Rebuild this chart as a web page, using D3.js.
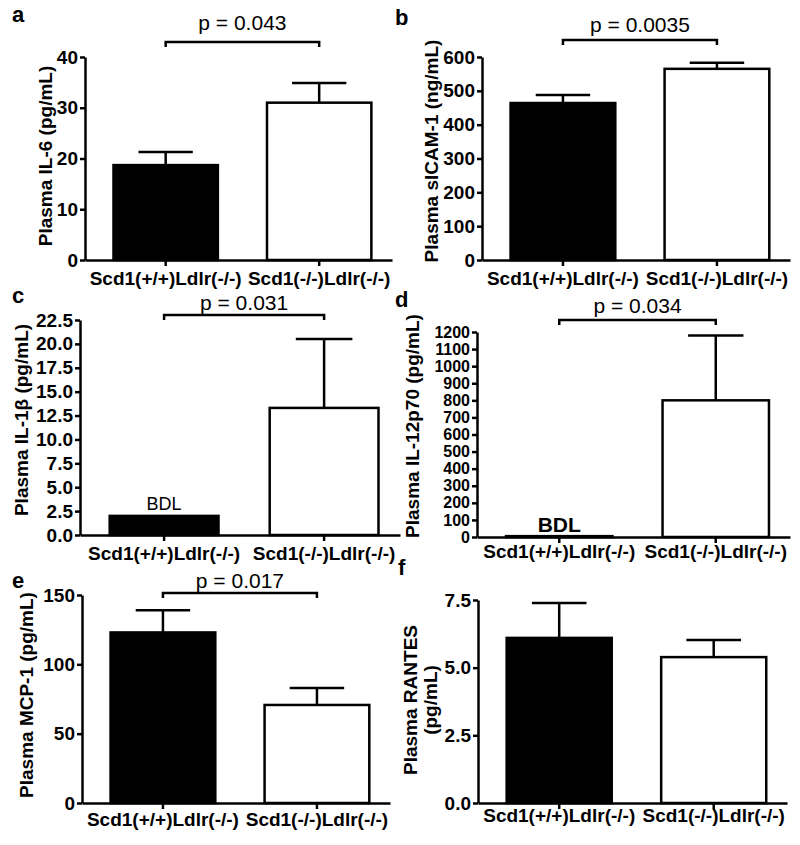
<!DOCTYPE html>
<html>
<head>
<meta charset="utf-8">
<script src="https://cdn.jsdelivr.net/npm/d3@7"></script>
<style>
  html, body { margin: 0; padding: 0; background: #fff; }
  svg { display: block; }
</style>
</head>
<body>
<script>
// ---------------- DATA ----------------
const categories = ["Scd1(+/+)Ldlr(-/-)", "Scd1(-/-)Ldlr(-/-)"];

const il6Mean = [18.7, 31.0];
const il6Sem = [2.6, 3.9];
const il6Ticks = [0, 10, 20, 30, 40];

const sicamMean = [464, 565];
const sicamSem = [24, 18];
const sicamTicks = [0, 100, 200, 300, 400, 500, 600];

const il1bMean = [2.0, 13.3];
const il1bSem = [0, 7.2];
const il1bTicks = [0, 2.5, 5, 7.5, 10, 12.5, 15, 17.5, 20, 22.5];

const il12Mean = [5, 800];
const il12Sem = [0, 380];
const il12Ticks = [0, 100, 200, 300, 400, 500, 600, 700, 800, 900, 1000, 1100, 1200];

const mcpMean = [123, 70.7];
const mcpSem = [16, 12.3];
const mcpTicks = [0, 50, 100, 150];

const rantesMean = [6.1, 5.39];
const rantesSem = [1.29, 0.63];
const rantesTicks = [0, 2.5, 5, 7.5];

const pLabels = ["p = 0.043", "p = 0.0035", "p = 0.031", "p = 0.034", "p = 0.017", null];
const panelLetters = ["a", "b", "c", "d", "e", "f"];
const yTitles = [
  ["Plasma IL-6 (pg/mL)"],
  ["Plasma sICAM-1 (ng/mL)"],
  ["Plasma IL-1\u03B2 (pg/mL)"],
  ["Plasma IL-12p70 (pg/mL)"],
  ["Plasma MCP-1 (pg/mL)"],
  ["Plasma RANTES", "(pg/mL)"]
];
const bdlLabels = [null, null, "BDL", "BDL", null, null];

// ---------------- LAYOUT ----------------
const FONT = "'Liberation Sans', Arial, Helvetica, sans-serif";
const fills = ["#000", "#fff"];
const LW = 2.5;

const svg = d3.select("body").append("svg")
  .attr("width", 800).attr("height", 845)
  .style("background", "#fff");

const panels = [
  { means: il6Mean, sems: il6Sem, ticks: il6Ticks, fmt: d3.format("d"), max: 40,
    ax: 85, axEnd: 392, y0: 260, yTop: 57, gap: 6, tickFont: 19,
    letter: [12, 22], p: pLabels[0], pY: 30, brY: 42,
    title: yTitles[0], titleX: [52], titleY: 156 },
  { means: sicamMean, sems: sicamSem, ticks: sicamTicks, fmt: d3.format("d"), max: 600,
    ax: 482, axEnd: 790, y0: 260, yTop: 57, gap: 6, tickFont: 19,
    letter: [395, 25], p: pLabels[1], pY: 32, brY: 40,
    title: yTitles[1], titleX: [438], titleY: 151 },
  { means: il1bMean, sems: il1bSem, ticks: il1bTicks, fmt: d3.format(".1f"), max: 22.5,
    ax: 80, axEnd: 400, y0: 535, yTop: 320, gap: 6, tickFont: 19,
    letter: [12, 303], p: pLabels[2], pY: 310, brY: 315,
    title: yTitles[2], titleX: [28], titleY: 420,
    bdl: { text: bdlLabels[2], weight: "normal", size: 18, dy: -6 } },
  { means: il12Mean, sems: il12Sem, ticks: il12Ticks, fmt: d3.format("d"), max: 1200,
    ax: 477, axEnd: 790, y0: 537, yTop: 332, gap: 2, tickFont: 16,
    letter: [395, 307], p: pLabels[3], pY: 313, brY: 320,
    title: yTitles[3], titleX: [419], titleY: 426,
    bdl: { text: bdlLabels[3], weight: "bold", size: 21, dy: -4 } },
  { means: mcpMean, sems: mcpSem, ticks: mcpTicks, fmt: d3.format("d"), max: 150,
    ax: 82, axEnd: 390, y0: 803, yTop: 595, gap: 4, tickFont: 19,
    letter: [12, 588], p: pLabels[4], pY: 588, brY: 593,
    title: yTitles[4], titleX: [33], titleY: 695 },
  { means: rantesMean, sems: rantesSem, ticks: rantesTicks, fmt: d3.format(".1f"), max: 7.5,
    ax: 478, axEnd: 787, y0: 803, yTop: 600, gap: 0, tickFont: 19,
    letter: [398, 575], p: null,
    title: yTitles[5], titleX: [417, 437], titleY: 700 }
];

function drawPanel(cfg, idx) {
  const g = svg.append("g").attr("class", "panel-" + panelLetters[idx]);

  const x = d3.scaleBand().domain(categories)
    .range([cfg.ax, cfg.axEnd])
    .paddingInner(0.32).paddingOuter(0.16).align(0.58);
  const y = d3.scaleLinear().domain([0, cfg.max]).range([cfg.y0, cfg.yTop]);
  const bw = x.bandwidth();
  const cx = i => x(categories[i]) + bw / 2;

  // error bars (upper only)
  const err = g.append("g");
  cfg.means.forEach((m, i) => {
    const s = cfg.sems[i];
    if (!s) return;
    err.append("line")
      .attr("x1", cx(i)).attr("x2", cx(i))
      .attr("y1", y(m)).attr("y2", y(m + s))
      .attr("stroke", "#000").attr("stroke-width", LW);
    err.append("line")
      .attr("x1", cx(i) - bw * 0.26).attr("x2", cx(i) + bw * 0.26)
      .attr("y1", y(m + s)).attr("y2", y(m + s))
      .attr("stroke", "#000").attr("stroke-width", LW);
  });

  // bars
  g.append("g").selectAll("rect")
    .data(cfg.means)
    .join("rect")
    .attr("x", (d, i) => x(categories[i]))
    .attr("width", bw)
    .attr("y", d => y(d))
    .attr("height", d => y(0) - y(d))
    .attr("fill", (d, i) => fills[i])
    .attr("stroke", "#000")
    .attr("stroke-width", LW);

  // y axis
  const yAxis = d3.axisLeft(y).tickValues(cfg.ticks).tickFormat(cfg.fmt)
    .tickSize(5).tickPadding(2).tickSizeOuter(0);
  const yg = g.append("g").attr("transform", `translate(${cfg.ax},0)`).call(yAxis);
  yg.attr("font-family", FONT).attr("font-size", cfg.tickFont).attr("font-weight", "bold");
  yg.selectAll("path,line").attr("stroke", "#000").attr("stroke-width", LW);
  yg.selectAll("text").attr("fill", "#000");

  // x axis
  const xAxis = d3.axisBottom(x).tickSize(6).tickPadding(cfg.gap).tickSizeOuter(0);
  const xg = g.append("g").attr("transform", `translate(0,${cfg.y0})`).call(xAxis);
  xg.attr("font-family", FONT).attr("font-size", 19).attr("font-weight", "bold");
  xg.selectAll("path,line").attr("stroke", "#000").attr("stroke-width", LW);
  xg.selectAll("text").attr("fill", "#000");

  // BDL label
  if (cfg.bdl) {
    g.append("text")
      .attr("x", cx(0)).attr("y", y(cfg.means[0]) + cfg.bdl.dy)
      .attr("text-anchor", "middle")
      .attr("font-family", FONT).attr("font-size", cfg.bdl.size)
      .attr("font-weight", cfg.bdl.weight)
      .text(cfg.bdl.text);
  }

  // significance bracket
  if (cfg.p) {
    const x1 = cx(0), x2 = cx(1);
    g.append("path")
      .attr("d", `M${x1},${cfg.brY + 5}V${cfg.brY}H${x2}V${cfg.brY + 5}`)
      .attr("fill", "none").attr("stroke", "#000").attr("stroke-width", LW);
    g.append("text")
      .attr("x", (x1 + x2) / 2).attr("y", cfg.pY)
      .attr("text-anchor", "middle")
      .attr("font-family", FONT).attr("font-size", 21)
      .text(cfg.p);
  }

  // y title
  cfg.title.forEach((t, k) => {
    g.append("text")
      .attr("transform", `translate(${cfg.titleX[k]},${cfg.titleY}) rotate(-90)`)
      .attr("text-anchor", "middle")
      .attr("font-family", FONT).attr("font-size", 19).attr("font-weight", "bold")
      .text(t);
  });

  // panel letter
  g.append("text")
    .attr("x", cfg.letter[0]).attr("y", cfg.letter[1])
    .attr("font-family", FONT).attr("font-size", 22).attr("font-weight", "bold")
    .text(panelLetters[idx]);
}

panels.forEach(drawPanel);
</script>
</body>
</html>
